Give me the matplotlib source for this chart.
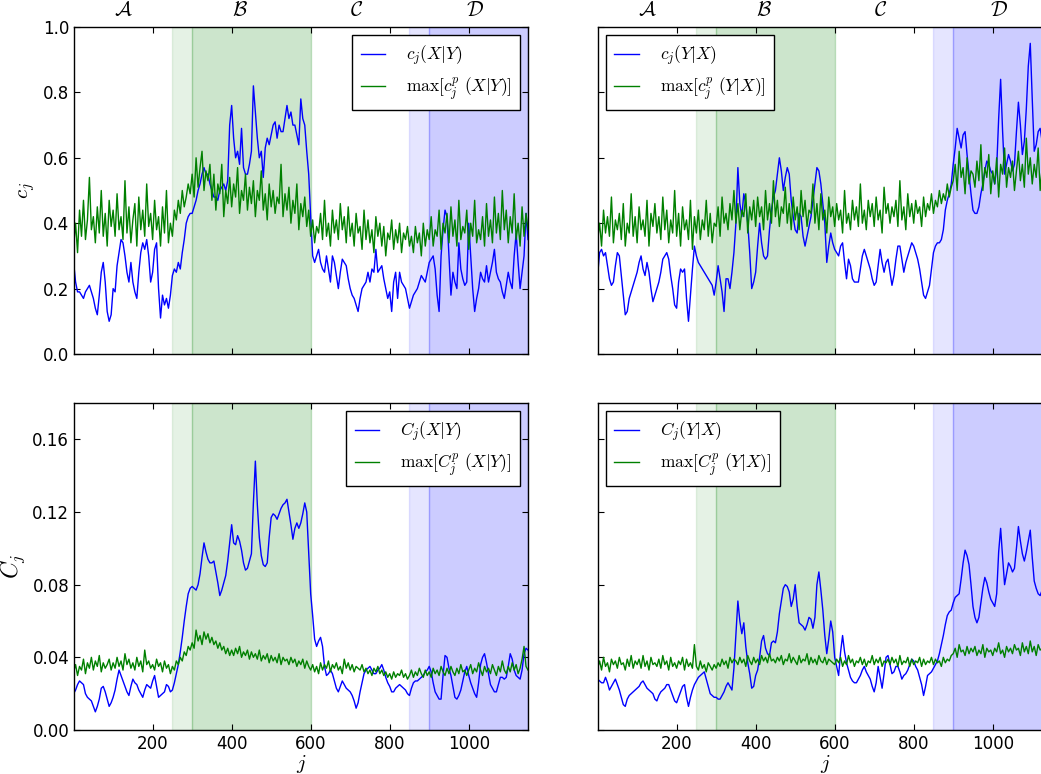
import numpy as np
import matplotlib
matplotlib.use('Agg')
import matplotlib.pyplot as plt
import matplotlib.transforms as mtransforms

plt.rcParams['mathtext.fontset'] = 'cm'
plt.rcParams['font.size'] = 12
plt.rcParams['xtick.direction'] = 'in'
plt.rcParams['ytick.direction'] = 'in'
plt.rcParams['xtick.top'] = True
plt.rcParams['ytick.right'] = True
plt.rcParams['xtick.major.size'] = 4
plt.rcParams['ytick.major.size'] = 4
plt.rcParams['axes.linewidth'] = 1.0

# indice j, pas de 5
j = np.arange(0, 1151, 5)

# c_j(X|Y), en centiemes
c_xy = [28, 22, 19, 19, 18, 17, 19, 20, 21, 19,
        17, 14, 12, 18, 25, 28, 22, 13, 10, 12,
        20, 19, 27, 31, 35, 34, 30, 25, 22, 28,
        22, 19, 17, 25, 31, 34, 32, 35, 30, 22,
        25, 32, 34, 20, 11, 18, 15, 17, 14, 18,
        24, 26, 25, 28, 26, 31, 35, 40, 42, 43,
        43, 45, 47, 50, 52, 55, 57, 55, 55, 52,
        50, 48, 48, 47, 50, 51, 52, 50, 53, 70,
        76, 66, 60, 62, 58, 69, 57, 55, 55, 58,
        62, 82, 74, 66, 60, 62, 54, 63, 66, 64,
        67, 70, 71, 66, 70, 68, 68, 72, 76, 72,
        74, 70, 70, 67, 64, 78, 72, 70, 62, 55,
        42, 30, 28, 30, 32, 28, 26, 25, 30, 26,
        22, 30, 28, 24, 20, 25, 29, 28, 27, 23,
        20, 18, 17, 15, 13, 17, 20, 21, 22, 25,
        22, 26, 25, 32, 25, 26, 27, 23, 20, 17,
        19, 13, 22, 25, 17, 25, 22, 21, 20, 17,
        14, 16, 18, 19, 20, 22, 24, 23, 22, 25,
        28, 29, 30, 26, 18, 13, 30, 38, 44, 42,
        30, 18, 25, 22, 20, 34, 26, 23, 21, 22,
        40, 30, 20, 13, 17, 20, 25, 23, 22, 27,
        22, 25, 28, 32, 25, 23, 22, 19, 17, 21,
        25, 22, 20, 30, 37, 28, 20, 25, 30, 43,
        35]

# max[c_j^p(X|Y)], en centiemes
cp_xy = [33, 40, 31, 44, 36, 47, 35, 41, 54, 38,
         42, 34, 45, 37, 50, 36, 43, 33, 47, 39,
         44, 36, 49, 38, 42, 35, 53, 37, 45, 34,
         41, 46, 33, 48, 38, 44, 36, 52, 39, 43,
         35, 47, 38, 42, 33, 45, 37, 50, 34, 40,
         36, 44, 41, 47, 43, 50, 45, 48, 52, 49,
         55, 48, 60, 51, 57, 62, 50, 56, 53, 58,
         47, 55, 44, 52, 49, 58, 42, 50, 46, 54,
         45, 52, 48, 57, 43, 50, 47, 55, 44, 51,
         46, 53, 42, 50, 47, 56, 44, 49, 41, 52,
         45, 50, 43, 48, 46, 58, 42, 49, 44, 51,
         40, 47, 43, 52, 38, 46, 42, 48, 39, 44,
         36, 41, 34, 39, 37, 43, 35, 47, 36, 40,
         33, 44, 37, 41, 35, 46, 38, 42, 34, 45,
         36, 40, 33, 43, 37, 39, 32, 44, 35, 41,
         34, 38, 31, 42, 36, 40, 33, 39, 30, 37,
         35, 41, 32, 38, 34, 40, 31, 37, 35, 39,
         33, 36, 31, 39, 34, 37, 30, 40, 33, 38,
         35, 42, 33, 38, 36, 44, 32, 40, 37, 43,
         34, 45, 36, 41, 33, 47, 35, 39, 37, 44,
         32, 40, 36, 47, 34, 38, 35, 42, 33, 46,
         36, 41, 34, 48, 37, 43, 35, 50, 38, 44,
         34, 42, 37, 49, 35, 40, 33, 45, 36, 43,
         38]

# c_j(Y|X), en centiemes
c_yx = [24, 31, 32, 30, 31, 27, 23, 21, 22, 27,
        31, 30, 24, 18, 12, 13, 17, 19, 21, 23,
        25, 28, 30, 26, 24, 28, 25, 20, 16, 18,
        20, 22, 25, 29, 30, 31, 29, 24, 20, 15,
        14, 22, 26, 25, 26, 17, 10, 18, 26, 33,
        30, 28, 27, 26, 25, 24, 23, 22, 21, 18,
        22, 27, 23, 19, 13, 23, 23, 20, 25, 31,
        40, 57, 46, 42, 49, 46, 40, 31, 20, 22,
        25, 33, 40, 34, 30, 29, 30, 38, 44, 48,
        50, 55, 60, 56, 50, 54, 57, 55, 47, 42,
        38, 37, 43, 42, 36, 33, 36, 39, 42, 47,
        52, 57, 56, 52, 46, 40, 28, 33, 37, 34,
        32, 31, 30, 33, 34, 28, 23, 29, 27, 23,
        22, 22, 22, 26, 30, 32, 30, 28, 26, 23,
        21, 22, 27, 32, 28, 25, 28, 29, 25, 21,
        24, 29, 33, 33, 29, 25, 28, 30, 32, 34,
        33, 31, 29, 26, 22, 18, 17, 19, 21, 26,
        31, 33, 34, 34, 35, 38, 44, 47, 49, 52,
        58, 63, 69, 66, 63, 67, 68, 61, 55, 49,
        44, 43, 43, 45, 49, 52, 56, 59, 58, 56,
        55, 52, 57, 72, 84, 68, 55, 58, 61, 59,
        56, 58, 68, 77, 70, 61, 65, 75, 88, 95,
        78, 62, 64, 68, 69, 65, 60, 61, 62, 63,
        62]

# max[c_j^p(Y|X)], en centiemes
cp_yx = [35, 40, 33, 44, 37, 42, 36, 48, 34, 41,
         38, 43, 35, 46, 33, 40, 37, 49, 36, 42,
         34, 45, 38, 41, 36, 47, 33, 43, 39, 46,
         37, 42, 35, 48, 38, 44, 34, 41, 37, 50,
         36, 43, 33, 45, 38, 41, 35, 47, 32, 42,
         37, 44, 35, 41, 38, 47, 36, 43, 34, 40,
         39, 45, 36, 48, 40, 43, 38, 46, 41, 50,
         40, 46, 38, 44, 42, 49, 37, 45, 41, 47,
         39, 48, 42, 45, 38, 50, 41, 46, 40, 53,
         42, 47, 39, 45, 43, 51, 40, 46, 38, 48,
         41, 45, 38, 50, 42, 47, 39, 44, 43, 52,
         40, 46, 38, 49, 41, 44, 37, 48, 42, 45,
         39, 46, 41, 44, 37, 50, 40, 43, 38, 47,
         41, 45, 39, 52, 40, 44, 38, 47, 42, 46,
         39, 48, 41, 44, 37, 51, 43, 46, 40, 45,
         42, 47, 39, 53, 41, 45, 38, 49, 42, 46,
         40, 47, 43, 45, 39, 48, 42, 46, 44, 49,
         43, 47, 45, 50, 46, 49, 47, 52, 48, 51,
         53, 58, 50, 62, 54, 57, 49, 60, 52, 56,
         55, 51, 59, 53, 64, 50, 57, 54, 61, 49,
         56, 52, 60, 48, 58, 55, 63, 51, 57, 54,
         59, 50, 56, 62, 53, 58, 51, 66, 55, 60,
         52, 58, 54, 63, 50, 57, 55, 61, 53, 58,
         55]

# C_j(X|Y), en milliemes
C_xy = [20, 22, 25, 27, 26, 25, 20, 18, 17, 16,
        13, 10, 13, 17, 23, 24, 21, 17, 13, 15,
        18, 22, 28, 33, 30, 27, 24, 21, 19, 24,
        28, 26, 25, 22, 20, 18, 22, 25, 24, 23,
        27, 30, 24, 18, 19, 20, 21, 25, 24, 21,
        22, 26, 31, 36, 43, 51, 60, 68, 75, 78,
        79, 78, 77, 80, 86, 95, 103, 98, 94, 92,
        92, 93, 87, 81, 74, 77, 81, 85, 93, 103,
        113, 103, 102, 107, 104, 99, 92, 88, 89, 93,
        97, 125, 148, 124, 106, 96, 91, 90, 92, 106,
        117, 119, 118, 116, 119, 122, 124, 125, 127, 120,
        113, 105, 111, 114, 111, 114, 119, 125, 120, 98,
        75, 63, 50, 46, 49, 51, 46, 35, 30, 31,
        33, 31, 27, 23, 21, 24, 27, 25, 23, 22,
        21, 19, 16, 12, 15, 21, 26, 31, 33, 34,
        35, 33, 31, 31, 33, 34, 36, 33, 29, 26,
        24, 21, 21, 23, 24, 25, 24, 23, 22, 20,
        19, 23, 26, 27, 27, 28, 29, 30, 32, 33,
        35, 32, 26, 21, 19, 17, 17, 30, 41, 40,
        34, 30, 24, 18, 17, 19, 22, 27, 32, 35,
        30, 26, 23, 20, 18, 26, 36, 40, 42, 37,
        31, 25, 23, 21, 21, 25, 29, 29, 28, 29,
        35, 42, 39, 33, 30, 29, 28, 33, 42, 45,
        44]

# max[C_j^p(X|Y)], en milliemes
Cp_xy = [32, 36, 30, 35, 33, 39, 31, 37, 34, 40,
         33, 38, 35, 41, 32, 37, 34, 36, 39, 33,
         37, 34, 40, 35, 38, 33, 42, 36, 39, 34,
         37, 33, 40, 35, 38, 32, 44, 36, 38, 34,
         36, 33, 39, 35, 37, 32, 38, 34, 36, 31,
         35, 33, 38, 36, 40, 38, 43, 41, 46, 44,
         48, 45, 55, 49, 52, 47, 54, 50, 53, 48,
         51, 47, 49, 45, 48, 44, 46, 42, 45, 41,
         44, 41, 45, 42, 46, 40, 43, 41, 44, 39,
         43, 40, 42, 39, 44, 38, 41, 39, 42, 37,
         41, 38, 40, 37, 42, 36, 40, 38, 39, 36,
         40, 37, 39, 35, 38, 36, 39, 34, 38, 35,
         33, 36, 32, 35, 31, 37, 33, 36, 34, 38,
         32, 36, 34, 37, 33, 35, 31, 39, 34, 37,
         33, 36, 32, 35, 34, 33, 36, 32, 34, 31,
         33, 30, 34, 32, 35, 31, 33, 30, 32, 29,
         31, 28, 32, 29, 31, 30, 33, 29, 31, 28,
         30, 33, 29, 32, 30, 34, 31, 29, 33, 30,
         32, 29, 34, 31, 33, 30, 35, 32, 30, 34,
         31, 35, 32, 30, 34, 31, 36, 32, 33, 30,
         33, 36, 31, 34, 32, 37, 33, 30, 35, 32,
         34, 31, 36, 33, 30, 35, 32, 38, 33, 31,
         35, 32, 37, 33, 36, 31, 34, 39, 46, 35,
         33]

# C_j(Y|X), en milliemes
C_yx = [28, 27, 26, 26, 29, 26, 22, 24, 26, 28,
        25, 22, 18, 14, 13, 17, 19, 20, 21, 22,
        23, 24, 26, 27, 25, 23, 22, 21, 20, 17,
        16, 19, 21, 22, 23, 25, 25, 22, 19, 16,
        15, 18, 21, 24, 25, 18, 13, 18, 22, 25,
        27, 29, 30, 31, 32, 28, 24, 20, 19, 18,
        18, 17, 17, 19, 21, 24, 26, 24, 22, 34,
        52, 71, 60, 53, 59, 46, 37, 31, 23, 24,
        30, 33, 40, 49, 52, 45, 42, 41, 48, 49,
        48, 54, 64, 71, 78, 80, 79, 76, 68, 72,
        80, 68, 59, 58, 57, 55, 58, 62, 61, 56,
        62, 80, 87, 77, 66, 52, 42, 50, 60, 54,
        40, 35, 30, 43, 52, 43, 37, 33, 29, 27,
        26, 26, 28, 30, 33, 35, 32, 30, 28, 24,
        21, 26, 35, 29, 23, 31, 40, 41, 36, 31,
        32, 35, 35, 32, 28, 30, 31, 33, 36, 39,
        38, 35, 33, 29, 25, 19, 24, 30, 31, 32,
        34, 36, 38, 42, 47, 52, 58, 63, 65, 66,
        70, 73, 74, 75, 83, 92, 99, 96, 91, 80,
        68, 62, 59, 62, 70, 78, 84, 81, 76, 72,
        70, 68, 75, 98, 111, 95, 80, 86, 92, 90,
        87, 89, 100, 112, 104, 97, 93, 98, 104, 110,
        95, 82, 78, 75, 74, 77, 80, 81, 82, 84,
        85]

# max[C_j^p(Y|X)], en milliemes
Cp_yx = [34, 38, 33, 40, 35, 37, 32, 39, 36, 38,
         34, 40, 36, 37, 33, 39, 35, 41, 34, 38,
         36, 39, 34, 41, 35, 38, 33, 40, 36, 37,
         35, 39, 34, 41, 36, 38, 33, 40, 35, 37,
         34, 38, 36, 40, 33, 39, 35, 37, 34, 47,
         35, 33, 38, 34, 36, 32, 37, 35, 33, 36,
         34, 37, 35, 39, 36, 38, 34, 40, 37, 39,
         38, 36, 40, 37, 39, 35, 41, 38, 36, 40,
         37, 39, 36, 41, 38, 40, 37, 42, 38, 39,
         37, 40, 38, 41, 36, 39, 38, 42, 37, 40,
         38, 36, 41, 37, 39, 38, 42, 36, 40, 37,
         39, 36, 41, 38, 37, 40, 36, 39, 38, 37,
         36, 39, 37, 40, 35, 38, 36, 41, 37, 39,
         35, 38, 37, 40, 36, 39, 35, 38, 37, 41,
         36, 39, 37, 40, 35, 38, 37, 39, 36, 40,
         37, 39, 35, 41, 36, 38, 37, 40, 35, 39,
         36, 38, 37, 40, 35, 39, 36, 38, 37, 40,
         36, 39, 37, 38, 35, 40, 37, 39, 38, 41,
         42, 45, 40, 47, 43, 44, 41, 46, 42, 45,
         43, 46, 41, 44, 42, 47, 40, 45, 43, 44,
         41, 45, 43, 48, 42, 44, 40, 46, 43, 45,
         42, 47, 44, 45, 41, 48, 43, 46, 42, 49,
         43, 46, 41, 47, 44, 45, 42, 48, 43, 46,
         44]

zones = [r'$\mathcal{A}$', r'$\mathcal{B}$', r'$\mathcal{C}$', r'$\mathcal{D}$']
zones_x = [125, 420, 715, 1015]


def decor(ax):
    ax.axvspan(250, 300, facecolor='g', edgecolor='g', alpha=0.1)
    ax.axvspan(300, 600, facecolor='g', edgecolor='g', alpha=0.2)
    ax.axvspan(850, 900, facecolor='b', edgecolor='b', alpha=0.1)
    ax.axvspan(900, 1150, facecolor='b', edgecolor='b', alpha=0.2)
    ax.set_xlim(1, 1150)
    ax.set_xticks([200, 400, 600, 800, 1000])


def courbes(ax, bleu, vert, lab_b, lab_v, echelle, loc):
    ax.plot(j, np.array(bleu) / echelle, color='b', lw=1.0, label=lab_b)
    ax.plot(j, np.array(vert) / echelle, color='g', lw=1.0, label=lab_v)
    leg = ax.legend(loc=loc, fontsize=12.5, handlelength=1.4, handletextpad=1.2,
                    labelspacing=0.4, borderpad=0.5, borderaxespad=0.45,
                    fancybox=False, framealpha=1)
    leg.get_frame().set_edgecolor('k')


fig = plt.figure(figsize=(10.41, 7.74), dpi=100)
W, H = 1041, 774
larg, haut = 454 / W, 327 / H
ax1 = fig.add_axes([74 / W, 1 - 354 / H, larg, haut])
ax2 = fig.add_axes([598 / W, 1 - 354 / H, larg, haut])
ax3 = fig.add_axes([74 / W, 1 - 730 / H, larg, haut])
ax4 = fig.add_axes([598 / W, 1 - 730 / H, larg, haut])

for ax in (ax1, ax2, ax3, ax4):
    decor(ax)

courbes(ax1, c_xy, cp_xy, r'$c_j(X|Y)$', r'$\max[c_j^p\ (X|Y)]$', 100, 'upper right')
courbes(ax2, c_yx, cp_yx, r'$c_j(Y|X)$', r'$\max[c_j^p\ (Y|X)]$', 100, 'upper left')
courbes(ax3, C_xy, Cp_xy, r'$C_j(X|Y)$', r'$\max[C_j^p\ (X|Y)]$', 1000, 'upper right')
courbes(ax4, C_yx, Cp_yx, r'$C_j(Y|X)$', r'$\max[C_j^p\ (Y|X)]$', 1000, 'upper left')

for ax in (ax1, ax2):
    ax.set_ylim(0, 1.0)
    ax.set_yticks([0.0, 0.2, 0.4, 0.6, 0.8, 1.0])
    ax.set_xticklabels([])
    tr = mtransforms.blended_transform_factory(ax.transData, ax.transAxes)
    for z, zx in zip(zones, zones_x):
        ax.text(zx, 1.02, z, transform=tr, ha='center', va='bottom', fontsize=15)

for ax in (ax3, ax4):
    ax.set_ylim(0, 0.18)
    ax.set_yticks([0.0, 0.04, 0.08, 0.12, 0.16])
    ax.set_xlabel(r'$j$', fontsize=15, labelpad=0)

ax1.set_yticklabels(['0.0', '0.2', '0.4', '0.6', '0.8', '1.0'])
ax3.set_yticklabels(['0.00', '0.04', '0.08', '0.12', '0.16'])
ax2.set_yticklabels([])
ax4.set_yticklabels([])

ax1.set_ylabel(r'$c_j$', fontsize=15)
ax3.set_ylabel(r'$C_j$', fontsize=17)

fig.savefig('out.png', dpi=100)
